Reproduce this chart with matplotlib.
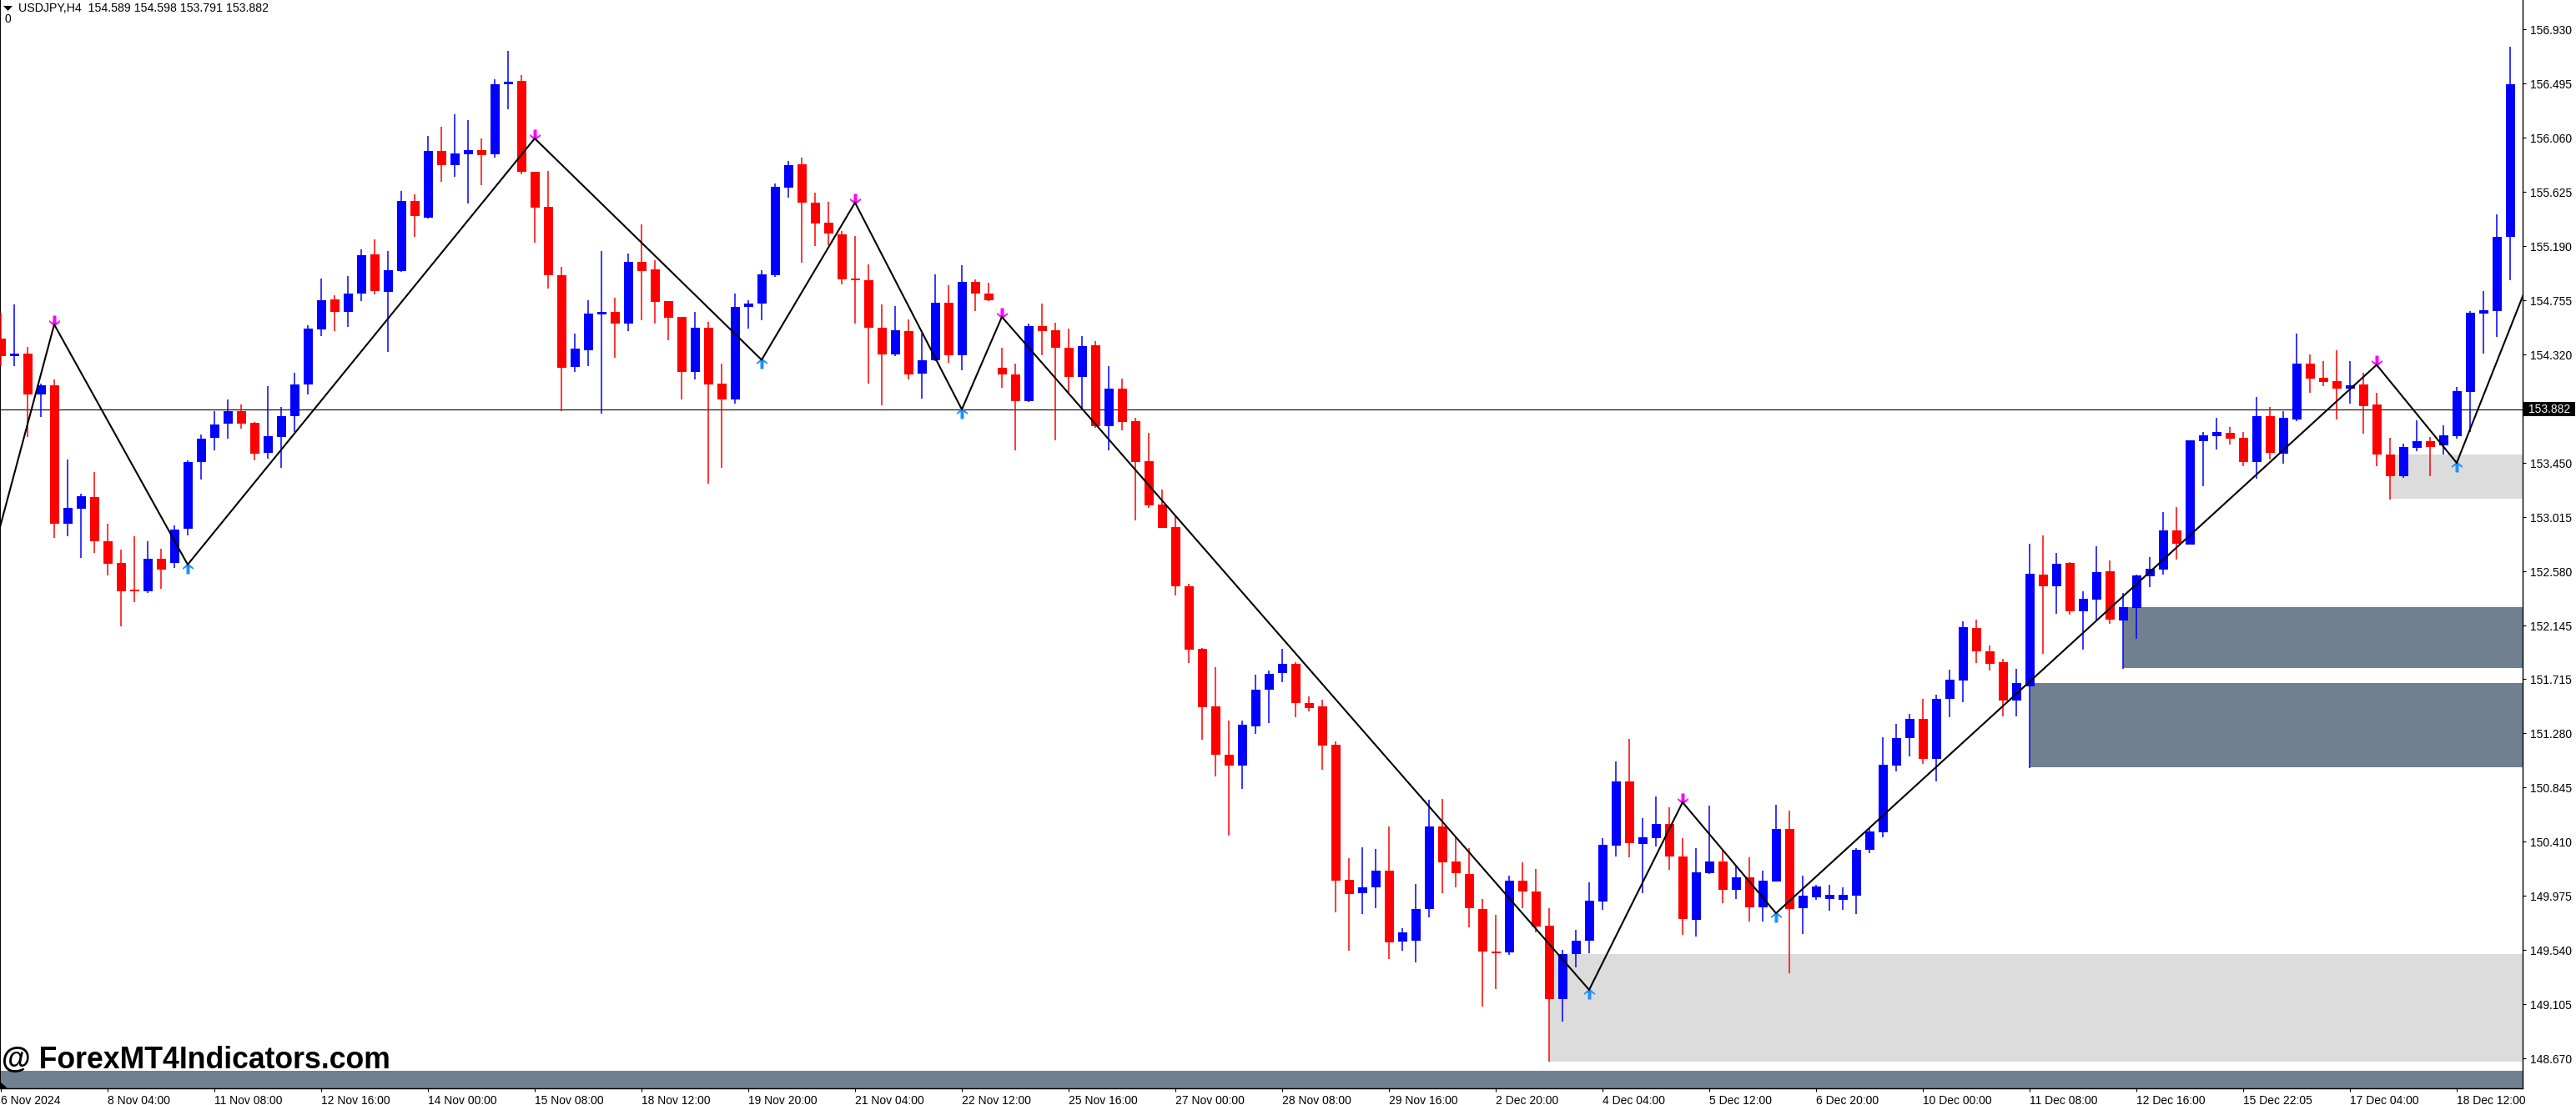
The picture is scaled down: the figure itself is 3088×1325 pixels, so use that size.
import matplotlib
matplotlib.use("Agg")
import matplotlib.pyplot as plt
import numpy as np
from matplotlib.patches import Polygon, Rectangle
from matplotlib.path import Path
from matplotlib.transforms import blended_transform_factory

plt.rcParams["font.family"] = ["Liberation Sans", "DejaVu Sans"]

W, H = 3088, 1325
BLUE, RED = "#0000ff", "#ff0000"
SLATE, LIGHT = "#708090", "#dcdcdc"

# ---- data: USDJPY H4, one entry per bar --------------------------------------
open_ = [
    154.446, 154.307, 154.326, 154.002, 154.073, 152.964, 153.084, 153.175, 152.821, 152.646,
    152.425, 152.419, 152.682, 152.649, 152.919, 153.454, 153.648, 153.762, 153.866, 153.772,
    153.528, 153.661, 153.827, 154.077, 154.524, 154.761, 154.664, 154.807, 155.125, 154.820,
    154.992, 155.553, 155.420, 155.955, 155.841, 155.929, 155.961, 155.926, 156.487, 156.516,
    155.786, 155.504, 154.956, 154.223, 154.356, 154.644, 154.661, 154.570, 155.063, 155.004,
    154.751, 154.621, 154.177, 154.533, 154.086, 153.962, 154.699, 154.731, 154.958, 155.662,
    155.847, 155.539, 155.377, 155.286, 154.929, 154.916, 154.533, 154.323, 154.507, 154.164,
    154.271, 154.735, 154.316, 154.903, 154.809, 154.212, 154.160, 153.949, 154.550, 154.514,
    154.374, 154.138, 154.394, 153.742, 154.047, 153.784, 153.463, 153.116, 152.934, 152.460,
    151.958, 151.497, 151.109, 151.024, 151.337, 151.628, 151.762, 151.837, 151.523, 151.497,
    151.187, 150.103, 149.995, 150.041, 150.178, 149.607, 149.613, 149.868, 150.534, 150.253,
    150.152, 149.871, 149.528, 149.519, 150.096, 150.012, 149.737, 149.150, 149.505, 149.613,
    149.933, 150.381, 150.893, 150.394, 150.436, 150.554, 150.292, 149.780, 150.155, 150.253,
    150.021, 150.126, 149.881, 150.093, 150.511, 149.874, 149.966, 149.953, 149.946, 149.979,
    150.348, 150.488, 151.024, 151.239, 151.396, 151.073, 151.556, 151.706, 152.124, 151.938,
    151.850, 151.546, 151.660, 152.555, 152.457, 152.646, 152.261, 152.356, 152.581, 152.185,
    152.286, 152.540, 152.596, 152.907, 152.797, 153.627, 153.666, 153.690, 153.651, 153.460,
    153.824, 153.526, 153.801, 154.246, 154.132, 154.105, 154.049, 154.078, 153.920, 153.517,
    153.340, 153.573, 153.624, 153.588, 153.666, 154.022, 154.649, 154.670, 155.262,
]
close = [
    154.310, 154.326, 154.002, 154.073, 152.964, 153.090, 153.181, 152.818, 152.643, 152.419,
    152.419, 152.682, 152.597, 152.915, 153.457, 153.645, 153.759, 153.866, 153.768, 153.522,
    153.665, 153.824, 154.080, 154.528, 154.755, 154.664, 154.810, 155.118, 154.826, 154.998,
    155.553, 155.429, 155.955, 155.841, 155.932, 155.961, 155.923, 156.490, 156.510, 155.783,
    155.501, 154.953, 154.216, 154.369, 154.648, 154.661, 154.570, 155.063, 154.992, 154.745,
    154.618, 154.183, 154.533, 154.082, 153.962, 154.702, 154.728, 154.965, 155.666, 155.841,
    155.536, 155.374, 155.289, 154.926, 154.919, 154.537, 154.323, 154.514, 154.157, 154.274,
    154.735, 154.316, 154.903, 154.806, 154.757, 154.157, 153.949, 154.550, 154.511, 154.371,
    154.138, 154.387, 153.748, 154.047, 153.781, 153.460, 153.112, 152.928, 152.457, 151.954,
    151.487, 151.105, 151.024, 151.350, 151.631, 151.758, 151.837, 151.520, 151.484, 151.184,
    150.100, 149.989, 150.044, 150.178, 149.600, 149.682, 149.871, 150.534, 150.247, 150.155,
    149.874, 149.525, 149.512, 150.096, 150.008, 149.731, 149.150, 149.509, 149.617, 149.936,
    150.384, 150.893, 150.397, 150.446, 150.554, 150.289, 149.786, 150.165, 150.253, 150.021,
    150.126, 149.881, 150.096, 150.511, 149.868, 149.976, 150.051, 149.985, 149.985, 150.345,
    150.492, 151.027, 151.243, 151.396, 151.073, 151.556, 151.709, 152.131, 151.935, 151.840,
    151.546, 151.683, 152.562, 152.457, 152.640, 152.261, 152.359, 152.575, 152.189, 152.292,
    152.547, 152.600, 152.907, 152.803, 153.630, 153.672, 153.699, 153.642, 153.460, 153.824,
    153.532, 153.812, 154.246, 154.129, 154.099, 154.049, 154.072, 153.908, 153.514, 153.340,
    153.576, 153.624, 153.579, 153.672, 154.025, 154.655, 154.676, 155.265, 156.490,
]
high = [
    154.657, 154.722, 154.382, 154.083, 154.119, 153.477, 153.201, 153.376, 152.961, 152.753,
    152.860, 152.821, 152.763, 152.948, 153.473, 153.678, 153.866, 153.960, 153.918, 153.778,
    154.067, 153.898, 154.174, 154.554, 154.930, 154.797, 154.949, 155.163, 155.245, 155.150,
    155.634, 155.605, 156.075, 156.146, 156.247, 156.202, 156.056, 156.529, 156.756, 156.565,
    155.786, 155.793, 155.024, 154.489, 154.755, 155.150, 154.774, 155.128, 155.365, 155.076,
    154.751, 154.624, 154.663, 154.582, 154.248, 154.809, 154.757, 154.997, 155.691, 155.870,
    155.899, 155.620, 155.546, 155.312, 155.270, 155.043, 154.722, 154.709, 154.601, 154.485,
    154.965, 154.877, 155.036, 154.926, 154.897, 154.374, 154.248, 154.566, 154.728, 154.576,
    154.527, 154.465, 154.426, 154.228, 154.128, 153.813, 153.690, 153.236, 153.025, 152.483,
    151.964, 151.811, 151.383, 151.383, 151.752, 151.784, 151.958, 151.850, 151.576, 151.549,
    151.216, 150.279, 150.364, 150.351, 150.534, 149.718, 150.070, 150.746, 150.753, 150.446,
    150.358, 149.950, 149.822, 150.136, 150.243, 150.191, 149.878, 149.541, 149.701, 150.083,
    150.439, 151.053, 151.236, 150.599, 150.772, 150.687, 150.436, 150.358, 150.701, 150.348,
    150.214, 150.286, 150.178, 150.707, 150.661, 150.139, 150.061, 150.064, 150.044, 150.358,
    150.521, 151.249, 151.357, 151.435, 151.556, 151.589, 151.791, 152.180, 152.193, 151.984,
    151.879, 151.798, 152.800, 152.868, 152.728, 152.653, 152.421, 152.780, 152.666, 152.406,
    152.553, 152.694, 153.056, 153.095, 153.630, 153.699, 153.812, 153.738, 153.699, 153.980,
    153.899, 153.866, 154.488, 154.320, 154.267, 154.353, 154.267, 154.174, 154.013, 153.651,
    153.603, 153.792, 153.660, 153.753, 154.060, 154.667, 154.828, 155.444, 156.789,
]
low = [
    154.229, 154.229, 153.655, 153.817, 152.850, 152.863, 152.688, 152.727, 152.549, 152.140,
    152.331, 152.409, 152.438, 152.610, 152.867, 153.318, 153.554, 153.645, 153.726, 153.473,
    153.483, 153.408, 153.700, 154.002, 154.466, 154.505, 154.544, 154.748, 154.800, 154.343,
    154.985, 155.267, 155.410, 155.708, 155.744, 155.530, 155.676, 155.903, 156.286, 155.764,
    155.219, 154.846, 153.863, 154.177, 154.229, 153.843, 154.297, 154.505, 154.592, 154.570,
    154.436, 153.956, 154.118, 153.281, 153.408, 153.923, 154.530, 154.592, 154.945, 155.581,
    155.059, 155.189, 155.198, 154.880, 154.566, 154.089, 153.911, 154.310, 154.118, 153.969,
    154.264, 154.254, 154.196, 154.666, 154.751, 154.056, 153.554, 153.940, 154.316, 153.628,
    153.998, 153.885, 153.729, 153.550, 153.709, 152.986, 153.087, 152.928, 152.383, 151.841,
    151.226, 150.932, 150.456, 150.831, 151.278, 151.360, 151.693, 151.406, 151.458, 150.985,
    149.845, 149.532, 149.832, 149.874, 149.466, 149.532, 149.443, 149.806, 149.995, 150.047,
    149.721, 149.084, 149.225, 149.499, 149.874, 149.679, 148.644, 148.964, 149.401, 149.515,
    149.861, 150.292, 150.283, 149.995, 150.374, 150.185, 149.659, 149.652, 150.149, 149.917,
    149.953, 149.767, 149.770, 150.090, 149.355, 149.672, 149.946, 149.855, 149.861, 149.832,
    150.315, 150.443, 150.972, 151.096, 151.037, 150.893, 151.412, 151.530, 151.843, 151.781,
    151.419, 151.419, 151.004, 151.915, 152.242, 152.235, 151.954, 152.183, 152.160, 151.797,
    152.038, 152.453, 152.553, 152.674, 152.797, 153.266, 153.558, 153.600, 153.421, 153.325,
    153.475, 153.445, 153.783, 154.013, 154.066, 153.797, 153.926, 153.684, 153.424, 153.155,
    153.328, 153.544, 153.340, 153.517, 153.642, 153.699, 154.329, 154.464, 154.918,
]

# zigzag swing points (bar index, price); first and last run past the window
zz_bars = [-1, 4, 14, 40, 57, 64, 72, 75, 119, 126, 133, 178, 184, 189]
zz_price = [152.560, 154.561, 152.634, 156.054, 154.277, 155.539, 153.879, 154.622,
            149.221, 150.726, 149.836, 154.237, 153.450, 154.802]
peak_idx = [1, 3, 5, 7, 9, 11]
trough_idx = [2, 4, 6, 8, 10, 12]

# supply / demand zones: start bar, upper price, lower price
zone_start = [116, 152, 159, 179]
zone_top = [149.508, 151.683, 152.293, 153.517]
zone_bot = [148.647, 151.007, 151.804, 153.163]
zone_col = [LIGHT, SLATE, SLATE, LIGHT]
band_top = 148.571

last_price = 153.882
ytick_vals = [156.930, 156.495, 156.060, 155.625, 155.190, 154.755, 154.320, 153.450,
              153.015, 152.580, 152.145, 151.715, 151.280, 150.845, 150.410, 149.975,
              149.540, 149.105, 148.670]
xtick_labels = ["6 Nov 2024", "8 Nov 04:00", "11 Nov 08:00", "12 Nov 16:00", "14 Nov 00:00",
                "15 Nov 08:00", "18 Nov 12:00", "19 Nov 20:00", "21 Nov 04:00", "22 Nov 12:00",
                "25 Nov 16:00", "27 Nov 00:00", "28 Nov 08:00", "29 Nov 16:00", "2 Dec 20:00",
                "4 Dec 04:00", "5 Dec 12:00", "6 Dec 20:00", "10 Dec 00:00", "11 Dec 08:00",
                "12 Dec 16:00", "15 Dec 22:05", "17 Dec 04:00", "18 Dec 12:00"]
header = "USDJPY,H4  154.589 154.598 153.791 153.882"
watermark = "@ ForexMT4Indicators.com"

# swept-wing arrow, tip near the origin so it hangs off the swing vertex
_arrow = [(0, -2), (6.5, 3.5), (6.5, 5.5), (2, 2.5), (2, 11), (-2, 11), (-2, 2.5),
          (-6.5, 5.5), (-6.5, 3.5), (0, -2)]
ARROW_DOWN = Path(_arrow, closed=True)
ARROW_UP = Path([(x, -y) for x, y in _arrow], closed=True)

# ---- figure -------------------------------------------------------------------
fig = plt.figure(figsize=(W / 100, H / 100), dpi=100, facecolor="white")
ax = fig.add_axes([0, (H - 1304.5) / H, 3023.5 / W, 1304.5 / H])
ax.set_xlim(-1 / 16, 3022.5 / 16)
ax.set_ylim(148.434, 157.165)

o, c, hi, lo = map(np.array, (open_, close, high, low))
bars = np.arange(len(o))
up = c >= o
cols = np.where(up, BLUE, RED)

# zones sit behind everything
xr = ax.get_xlim()[1]
for s, t, b, col in zip(zone_start, zone_top, zone_bot, zone_col):
    ax.add_patch(Rectangle((s, b), xr - s, t - b, fc=col, ec="none", zorder=1))
ax.axhspan(ax.get_ylim()[0], band_top, fc=SLATE, ec="none", zorder=1)
ax.axhline(last_price, color="black", lw=0.8, zorder=2)

# candles
ax.vlines(bars, lo, hi, colors=cols, lw=1.1, zorder=3)
ax.bar(bars, np.maximum(np.abs(c - o), 0.012), bottom=np.minimum(o, c), width=0.6875,
       color=cols, linewidth=0, zorder=4)

# swing arrows + zigzag
zb, zp = np.array(zz_bars), np.array(zz_price)
ax.plot(zb[peak_idx], zp[peak_idx], ls="none", marker=ARROW_DOWN, ms=15.84, mfc="#ff00ff",
        mew=0, zorder=5)
ax.plot(zb[trough_idx], zp[trough_idx], ls="none", marker=ARROW_UP, ms=15.84, mfc="#1e90ff",
        mew=0, zorder=5)
ax.plot(zz_bars, zz_price, color="black", lw=1.5, zorder=6)

# axes
ax.spines["top"].set_visible(False)
ax.spines["left"].set_linewidth(1.4)
ax.spines["right"].set_linewidth(1.0)
ax.spines["bottom"].set_linewidth(1.0)
ax.yaxis.tick_right()
ax.set_yticks(ytick_vals)
ax.set_yticklabels([f"{v:.3f}" for v in ytick_vals])
ax.set_xticks(bars[::8])
ax.set_xticklabels(xtick_labels, ha="left")
ax.tick_params(axis="y", length=3, width=0.8, pad=3.6, labelsize=10)
ax.tick_params(axis="x", length=3, width=0.8, pad=3.0, labelsize=10)

# current price tag
tr = blended_transform_factory(fig.transFigure, ax.transData)
ax.add_patch(Rectangle((3025 / W, last_price - 0.054), 62 / W, 0.108, transform=tr,
                       fc="black", ec="none", clip_on=False, zorder=7))
ax.text(3031 / W, last_price, f"{last_price:.3f}", transform=tr, color="white", va="center",
        ha="left", fontsize=10, clip_on=False, zorder=8)

# header and watermark
fig.text(22 / W, 1 - 10 / H, header, fontsize=10.2, va="center", ha="left")
fig.text(5 / W, 1 - 23 / H, "0", fontsize=10, va="center", ha="left")
fig.add_artist(Polygon([(4 / W, 1 - 7 / H), (15 / W, 1 - 7 / H), (9.5 / W, 1 - 13 / H)],
                       closed=True, transform=fig.transFigure, fc="black", ec="none"))
fig.text(2 / W, 1 - 1271 / H, watermark, fontsize=25.7, fontweight="bold", va="center", ha="left",
         zorder=9)
fig.add_artist(Polygon([(0, 1 - 1297 / H), (0, 1 - 1305 / H), (9 / W, 1 - 1305 / H)],
                       closed=True, transform=fig.transFigure, fc="black", ec="none"))

fig.savefig("out.png", dpi=100)
